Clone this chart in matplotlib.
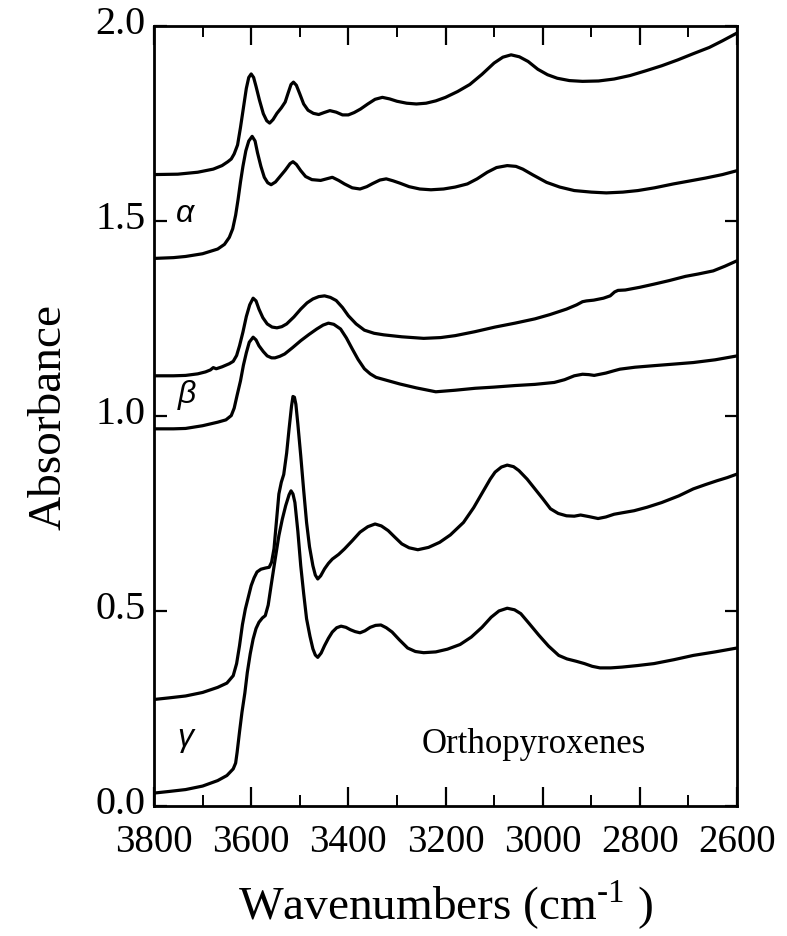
import matplotlib
matplotlib.use('Agg')
import matplotlib.pyplot as plt
import matplotlib.transforms as mtransforms
from matplotlib.ticker import MultipleLocator, FormatStrFormatter

plt.rcParams['font.family'] = ['Liberation Serif', 'DejaVu Serif']
plt.rcParams['mathtext.fontset'] = 'custom'
plt.rcParams['mathtext.rm'] = 'Liberation Serif'

# alpha, upper trace
wn_a1 = [3800, 3751, 3710, 3678, 3660, 3648, 3641, 3635, 3628, 3622, 3616, 3610, 3605, 3600,
         3595, 3590, 3583, 3575, 3568, 3562, 3555, 3547, 3538, 3530, 3524, 3518, 3513, 3507,
         3500, 3492, 3483, 3472, 3461, 3450, 3438, 3425, 3412, 3400, 3388, 3375, 3360, 3345,
         3330, 3315, 3300, 3280, 3260, 3240, 3220, 3200, 3175, 3150, 3125, 3100, 3082, 3065,
         3048, 3030, 3010, 2990, 2970, 2945, 2918, 2885, 2853, 2820, 2788, 2755, 2722, 2690,
         2657, 2630, 2600]
ab_a1 = [1.619, 1.620, 1.625, 1.633, 1.642, 1.652, 1.659, 1.672, 1.695, 1.740, 1.790, 1.840,
         1.868, 1.877, 1.868, 1.845, 1.810, 1.775, 1.757, 1.751, 1.760, 1.776, 1.790, 1.805,
         1.828, 1.850, 1.856, 1.848, 1.826, 1.800, 1.784, 1.776, 1.773, 1.778, 1.783, 1.779,
         1.772, 1.772, 1.778, 1.787, 1.800, 1.812, 1.817, 1.813, 1.807, 1.802, 1.800, 1.802,
         1.808, 1.817, 1.832, 1.850, 1.876, 1.905, 1.920, 1.926, 1.921, 1.909, 1.889, 1.875,
         1.866, 1.860, 1.858, 1.859, 1.864, 1.873, 1.885, 1.898, 1.913, 1.929, 1.945, 1.962,
         1.982]

# alpha, lower trace
wn_a2 = [3800, 3760, 3735, 3700, 3669, 3655, 3645, 3638, 3632, 3627, 3622, 3617, 3611, 3605,
         3598, 3592, 3587, 3580, 3573, 3566, 3559, 3550, 3540, 3530, 3520, 3514, 3507, 3498,
         3488, 3475, 3457, 3445, 3433, 3420, 3408, 3392, 3376, 3362, 3350, 3335, 3322, 3308,
         3294, 3275, 3253, 3230, 3204, 3180, 3155, 3135, 3114, 3095, 3073, 3055, 3041, 3020,
         2992, 2965, 2935, 2900, 2869, 2835, 2804, 2770, 2731, 2700, 2665, 2630, 2600]
ab_a2 = [1.404, 1.406, 1.409, 1.416, 1.428, 1.440, 1.458, 1.480, 1.515, 1.555, 1.600, 1.640,
         1.680, 1.705, 1.717, 1.705, 1.675, 1.640, 1.612, 1.598, 1.593, 1.600, 1.615, 1.630,
         1.647, 1.652, 1.645, 1.629, 1.614, 1.606, 1.604, 1.608, 1.612, 1.604, 1.595, 1.585,
         1.582, 1.588, 1.596, 1.605, 1.608, 1.603, 1.597, 1.588, 1.582, 1.580, 1.582, 1.587,
         1.595, 1.608, 1.625, 1.637, 1.642, 1.640, 1.633, 1.618, 1.599, 1.587, 1.578, 1.574,
         1.572, 1.574, 1.578, 1.585, 1.595, 1.602, 1.610, 1.619, 1.629]

# beta, upper trace
wn_b1 = [3800, 3760, 3735, 3710, 3694, 3684, 3678, 3672, 3660, 3645, 3637, 3630, 3624, 3617,
         3610, 3603, 3596, 3590, 3584, 3576, 3567, 3557, 3547, 3537, 3527, 3512, 3498, 3485,
         3473, 3461, 3449, 3437, 3425, 3412, 3400, 3384, 3367, 3347, 3327, 3290, 3245, 3210,
         3180, 3140, 3098, 3057, 3016, 2985, 2951, 2930, 2918, 2910, 2895, 2875, 2861, 2852,
         2845, 2830, 2800, 2771, 2740, 2706, 2680, 2649, 2625, 2600]
ab_b1 = [1.103, 1.103, 1.104, 1.108, 1.113, 1.118, 1.124, 1.121, 1.126, 1.134, 1.140, 1.155,
         1.180, 1.215, 1.255, 1.285, 1.302, 1.295, 1.274, 1.252, 1.236, 1.228, 1.226, 1.229,
         1.236, 1.254, 1.274, 1.290, 1.300, 1.306, 1.308, 1.304, 1.296, 1.278, 1.257, 1.236,
         1.220, 1.212, 1.208, 1.203, 1.199, 1.201, 1.206, 1.216, 1.228, 1.238, 1.249, 1.260,
         1.274, 1.285, 1.293, 1.295, 1.297, 1.302, 1.308, 1.318, 1.322, 1.323, 1.330, 1.338,
         1.347, 1.358, 1.364, 1.372, 1.384, 1.398]

# beta, lower trace
wn_b2 = [3800, 3760, 3735, 3700, 3669, 3652, 3641, 3635, 3629, 3622, 3616, 3610, 3604, 3596,
         3590, 3584, 3575, 3567, 3558, 3551, 3541, 3531, 3515, 3498, 3481, 3465, 3452, 3441,
         3430, 3416, 3404, 3392, 3380, 3367, 3355, 3343, 3320, 3294, 3260, 3220, 3180, 3139,
         3100, 3057, 3016, 2976, 2955, 2935, 2918, 2905, 2894, 2870, 2853, 2841, 2810, 2771,
         2730, 2690, 2645, 2600]
ab_b2 = [0.967, 0.967, 0.968, 0.975, 0.984, 0.990, 1.001, 1.020, 1.053, 1.090, 1.130, 1.162,
         1.189, 1.202, 1.195, 1.180, 1.165, 1.154, 1.149, 1.149, 1.153, 1.159, 1.175, 1.193,
         1.209, 1.223, 1.233, 1.238, 1.235, 1.223, 1.200, 1.172, 1.145, 1.121, 1.108, 1.099,
         1.091, 1.082, 1.072, 1.062, 1.066, 1.071, 1.074, 1.078, 1.081, 1.086, 1.093, 1.103,
         1.107, 1.106, 1.104, 1.110, 1.116, 1.120, 1.125, 1.129, 1.133, 1.137, 1.144, 1.154]

# gamma, upper trace
wn_g1 = [3800, 3770, 3735, 3700, 3669, 3650, 3637, 3630, 3624, 3618, 3612, 3605, 3600, 3594,
         3588, 3580, 3571, 3563, 3558, 3553, 3548, 3543, 3538, 3533, 3527, 3522, 3517, 3514,
         3511, 3508, 3504, 3498, 3492, 3486, 3480, 3473, 3468, 3463, 3457, 3449, 3441, 3433,
         3420, 3408, 3392, 3376, 3360, 3345, 3332, 3318, 3305, 3290, 3275, 3257, 3235, 3212,
         3190, 3163, 3142, 3122, 3108, 3098, 3085, 3073, 3060, 3049, 3032, 3016, 3000, 2984,
         2968, 2951, 2935, 2922, 2905, 2886, 2870, 2853, 2835, 2812, 2785, 2755, 2720, 2690,
         2665, 2641, 2620, 2600]
ab_g1 = [0.273, 0.277, 0.282, 0.291, 0.304, 0.315, 0.334, 0.365, 0.411, 0.465, 0.505, 0.540,
         0.565, 0.585, 0.600, 0.607, 0.610, 0.612, 0.625, 0.660, 0.730, 0.800, 0.830, 0.850,
         0.905, 0.967, 1.025, 1.050, 1.048, 1.030, 0.980, 0.898, 0.810, 0.727, 0.665, 0.616,
         0.592, 0.582, 0.590, 0.608, 0.622, 0.633, 0.645, 0.659, 0.680, 0.702, 0.716, 0.723,
         0.718, 0.706, 0.690, 0.672, 0.662, 0.657, 0.663, 0.676, 0.695, 0.727, 0.765, 0.808,
         0.838, 0.856, 0.869, 0.874, 0.870, 0.860, 0.838, 0.813, 0.788, 0.762, 0.750, 0.744,
         0.743, 0.746, 0.742, 0.737, 0.741, 0.748, 0.752, 0.757, 0.766, 0.778, 0.795, 0.813,
         0.824, 0.834, 0.842, 0.851]

# gamma, lower trace
wn_g2 = [3800, 3770, 3735, 3700, 3669, 3650, 3637, 3632, 3629, 3624, 3619, 3613, 3608, 3602,
         3596, 3590, 3584, 3577, 3571, 3565, 3559, 3551, 3543, 3536, 3529, 3522, 3518, 3514,
         3510, 3504, 3498, 3492, 3486, 3479, 3473, 3468, 3463, 3456, 3449, 3441, 3433, 3424,
         3415, 3405, 3396, 3386, 3376, 3366, 3355, 3344, 3333, 3322, 3310, 3295, 3278, 3262,
         3245, 3220, 3196, 3170, 3147, 3125, 3106, 3090, 3073, 3058, 3045, 3028, 3008, 2988,
         2967, 2950, 2931, 2914, 2898, 2882, 2860, 2837, 2805, 2771, 2730, 2690, 2645, 2600]
ab_g2 = [0.033, 0.037, 0.042, 0.051, 0.065, 0.078, 0.095, 0.110, 0.137, 0.190, 0.240, 0.290,
         0.342, 0.390, 0.428, 0.455, 0.471, 0.482, 0.488, 0.515, 0.565, 0.630, 0.693, 0.735,
         0.770, 0.798, 0.808, 0.800, 0.778, 0.705, 0.616, 0.545, 0.480, 0.435, 0.403, 0.387,
         0.381, 0.392, 0.411, 0.430, 0.446, 0.457, 0.461, 0.458, 0.452, 0.447, 0.444, 0.449,
         0.458, 0.463, 0.464, 0.457, 0.446, 0.426, 0.405, 0.396, 0.393, 0.395, 0.402, 0.414,
         0.433, 0.458, 0.484, 0.500, 0.507, 0.503, 0.493, 0.468, 0.438, 0.410, 0.386, 0.377,
         0.371, 0.365, 0.358, 0.354, 0.354, 0.356, 0.360, 0.365, 0.375, 0.386, 0.395, 0.405]

phase_labels = ['α', 'β', 'γ']
phase_pos = [(3736, 1.50), (3733, 1.035), (3736, 0.155)]

fig = plt.figure(figsize=(7.87, 9.37), dpi=100)
ax = fig.add_axes([0.1957, 0.1388, 0.7408, 0.8324])

for wn, ab in [(wn_a1, ab_a1), (wn_a2, ab_a2), (wn_b1, ab_b1),
               (wn_b2, ab_b2), (wn_g1, ab_g1), (wn_g2, ab_g2)]:
    ax.plot(wn, ab, color='black', lw=2.3, solid_joinstyle='round', solid_capstyle='round')

ax.set_xlim(3800, 2600)
ax.set_ylim(0, 2.0)
ax.xaxis.set_major_locator(MultipleLocator(200))
ax.xaxis.set_minor_locator(MultipleLocator(100))
ax.yaxis.set_major_locator(MultipleLocator(0.5))
ax.yaxis.set_major_formatter(FormatStrFormatter('%.1f'))

ax.tick_params(axis='x', which='major', direction='in', top=True, length=14, width=1.6,
               labelsize=28, pad=12)
ax.tick_params(axis='x', which='minor', direction='in', top=True, length=8, width=1.4)
ax.tick_params(axis='y', which='major', direction='in', right=True, length=9, width=1.6,
               labelsize=29, pad=6)
for s in ax.spines.values():
    s.set_linewidth(2.0)

for lab, (x, y) in zip(phase_labels, phase_pos):
    ax.text(x, y, lab, fontsize=23, style='italic', family=['Liberation Sans', 'DejaVu Sans'],
            ha='center', va='baseline')

ax.text(3018, 0.138, 'Orthopyroxenes', fontsize=25, ha='center', va='baseline')

ax.set_xlabel('Wavenumbers (cm$^{\\mathregular{\u2010}1}$ )', fontsize=34, labelpad=13)
ax.set_ylabel('Absorbance', fontsize=34, labelpad=18)

# lift the y tick labels a little so "0.0" clears the x tick labels
fig.canvas.draw()
lift = mtransforms.ScaledTranslation(0, 5 / 72, fig.dpi_scale_trans)
for t in ax.yaxis.get_major_ticks():
    t.label1.set_transform(t.label1.get_transform() + lift)

fig.savefig('out.png', dpi=100)
